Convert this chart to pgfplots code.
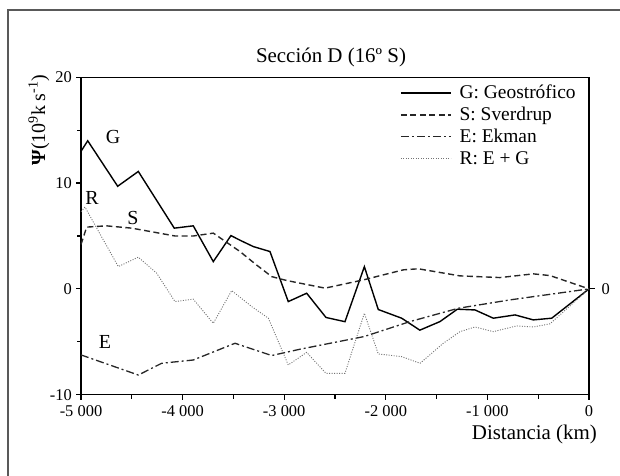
\documentclass[border=0pt]{standalone}
\usepackage{fontspec}
\setmainfont{Liberation Serif}
\usepackage{pgfplots}
\pgfplotsset{compat=1.18}

\begin{document}
\begin{tikzpicture}[x=1bp,y=1bp]
\useasboundingbox (0,0) rectangle (620,476);
% outer frame of the figure (cut at right and bottom)
\draw[black!65, line width=1.5bp] (8,-10) -- (8,466) -- (630,466);

\begin{axis}[
    at={(81bp,81.3bp)}, anchor=south west,
    scale only axis, width=508bp, height=317.4bp,
    xmin=-5000, xmax=0, ymin=-10, ymax=20,
    axis line style={line width=1.5bp},
    xtick={-5000,-4000,-3000,-2000,-1000,0},
    xticklabels={-5 000,-4 000,-3 000,-2 000,-1 000,0},
    minor xtick={-4500,-3500,-2500,-1500,-500},
    ytick={-10,0,10,20},
    yticklabels={-10,0,10,20},
    minor ytick={-5,5,15},
    tick align=outside, tick pos=left,
    major tick length=5bp, minor tick length=4bp,
    every tick/.style={line width=1.2bp, black},
    tick label style={font=\fontsize{16.5}{17}\selectfont, inner sep=1bp},
    xticklabel style={yshift=-5bp},
    yticklabel style={xshift=-3bp},
    clip=false,
    legend cell align=left,
    legend image code/.code={\draw[#1] (0bp,0bp) -- (50bp,0bp);},
    legend style={draw=none, fill=none, at={(0.98,0.985)}, anchor=north east,
        font=\fontsize{19.5}{22}\selectfont, row sep=3bp, inner sep=1bp,
        /tikz/every odd column/.append style={column sep=6bp}},
]
% G: geostrofico
\addplot[black, line width=1.4bp] coordinates {
  (-5000,13.0)(-4934,14.0)(-4639,9.7)(-4436,11.1)(-4082,5.74)(-3895,5.96)
  (-3698,2.58)(-3524,5.04)(-3435,4.6)(-3304,4.0)(-3140,3.53)(-2960,-1.2)
  (-2779,-0.41)(-2589,-2.7)(-2402,-3.1)(-2211,2.1)(-2074,-1.95)(-1844,-2.77)
  (-1665,-3.9)(-1467,-3.09)(-1296,-1.92)(-1122,-1.99)(-942,-2.77)(-728,-2.46)
  (-548,-2.93)(-367,-2.77)(0,0)
};
\addlegendentry{G: Geostrófico}
% S: sverdrup
\addplot[black!85, line width=1.4bp, dash pattern=on 6bp off 3.5bp] coordinates {
  (-5000,4.2)(-4944,5.84)(-4750,5.96)(-4500,5.74)(-4075,5.0)(-3895,5.0)
  (-3698,5.27)(-3435,3.53)(-3287,2.37)(-3123,1.16)(-2975,0.79)(-2598,0.07)
  (-2221,0.85)(-1828,1.8)(-1680,1.9)(-1270,1.23)(-876,1.07)(-548,1.42)
  (-384,1.26)(0,0)
};
\addlegendentry{S: Sverdrup}
% E: ekman
\addplot[black!85, line width=1.3bp, dash pattern=on 8bp off 3bp on 2bp off 3bp] coordinates {
  (-5000,-6.24)(-4436,-8.14)(-4206,-7.03)(-3895,-6.72)(-3484,-5.14)(-3123,-6.3)
  (-2844,-5.7)(-2211,-4.5)(-1762,-3.09)(-1286,-1.83)(-778,-1.04)(0,0)
};
\addlegendentry{E: Ekman}
% R: E + G
\addplot[black!55, line width=0.9bp, dash pattern=on 1bp off 1.5bp] coordinates {
  (-5000,7.3)(-4961,7.73)(-4633,2.11)(-4436,3.0)(-4255,1.48)(-4075,-1.2)
  (-3895,-0.97)(-3698,-3.25)(-3517,-0.16)(-3320,-1.67)(-3156,-2.77)(-2960,-7.19)
  (-2779,-6.0)(-2589,-7.98)(-2402,-7.98)(-2211,-2.3)(-2074,-6.15)(-1844,-6.4)
  (-1663,-7.03)(-1434,-5.14)(-1270,-4.04)(-1122,-3.6)(-942,-4.04)(-712,-3.5)
  (-548,-3.6)(-384,-3.3)(0,0)
};
\addlegendentry{R: E + G}

% curve labels
\node[font=\fontsize{20}{22}\selectfont] at (axis cs:-4685,14.4) {G};
\node[font=\fontsize{20}{22}\selectfont] at (axis cs:-4892,8.6) {R};
\node[font=\fontsize{20}{22}\selectfont] at (axis cs:-4488,6.7) {S};
\node[font=\fontsize{20}{22}\selectfont] at (axis cs:-4764,-5.0) {E};

% zero mark on the right axis
\draw[black, line width=1.2bp] (axis cs:0,0) -- ++(6bp,0bp);
\node[font=\fontsize{16.5}{17}\selectfont, anchor=west] at (axis cs:0,0) [xshift=9bp] {0};
\end{axis}

\node[font=\fontsize{21}{24}\selectfont] at (331,419) {Sección D (16º S)};
\node[font=\fontsize{21}{24}\selectfont, anchor=east, inner sep=0pt] at (597,42) {Distancia (km)};
\node[font=\fontsize{20}{24}\selectfont, rotate=90] at (39,356)
  {{\bfseries Ψ}(10\textsuperscript{9}k s\textsuperscript{-1})};
\end{tikzpicture}
\end{document}
